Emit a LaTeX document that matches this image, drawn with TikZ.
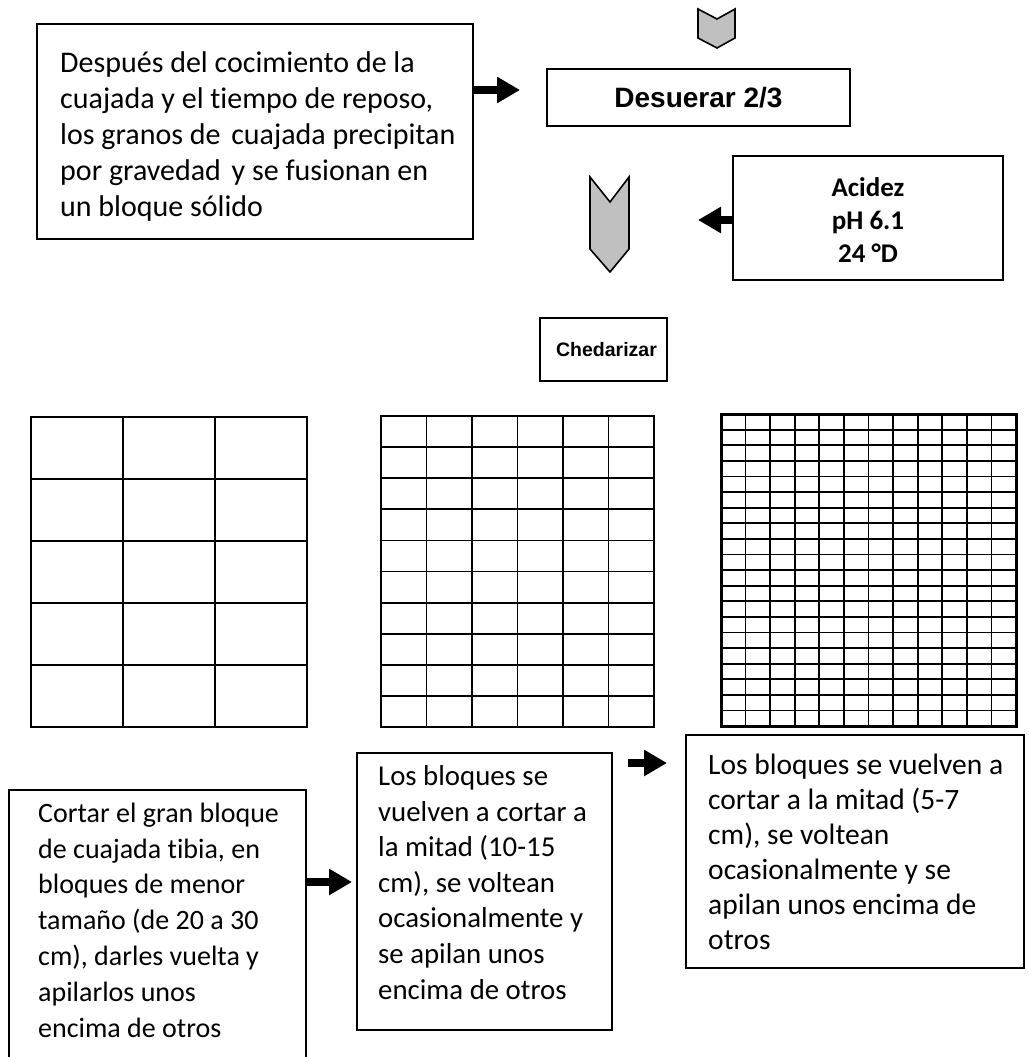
\documentclass[tikz,border=0pt]{standalone}
\usepackage{fontspec}
\setmainfont{Carlito}[Ligatures=NoCommon]
\newfontfamily\arialf{Liberation Sans}
\usetikzlibrary{arrows.meta}
\definecolor{chevgray}{HTML}{C0C0C0}
\begin{document}
\begin{tikzpicture}[x=1pt,y=-1pt,
  box/.style={draw, line width=1.6pt, rectangle, inner sep=0pt, outer sep=0pt, anchor=north west},
  txt/.style={anchor=base west, align=left, inner sep=0pt, font=\fontsize{28}{35.8}\selectfont},
  btxt/.style={anchor=base, align=center, inner sep=0pt, font=\fontsize{27}{33}\selectfont\bfseries},
  ttl/.style={inner sep=0pt, font=\fontsize{28}{34}\selectfont\arialf\bfseries},
  fat/.style={line width=7.5pt, -{Triangle[length=23pt,width=25pt]}},
  chev/.style={draw, line width=1.6pt, fill=chevgray, line join=miter},
  gline/.style={line width=1.8pt, line cap=rect}]
\useasboundingbox (0,0) rectangle (1028,1057);
\clip (0,0) rectangle (1028,1057);
\fill[white] (0,0) rectangle (1028,1057);

% chevrons
\draw[chev] (698,9) -- (717,19) -- (735,9) -- (735,38) -- (717,48) -- (698,38) -- cycle;
\draw[chev] (590,177) -- (610,202) -- (629,177) -- (629,249) -- (610,272) -- (590,249) -- cycle;

% top-left box (base anchor = last line baseline)
\node[box, minimum width=436pt, minimum height=215pt] (tl) at (37,24) {};
\node[txt, font=\fontsize{30}{36}\selectfont] (tltxt) at (60,216) {Después del cocimiento de la\\cuajada y el tiempo de reposo,\\los granos de\hspace{4pt} cuajada precipitan\\por gravedad\hspace{4pt} y se fusionan en\\un bloque sólido};

% Desuerar
\node[box, minimum width=303pt, minimum height=57pt] (des) at (547,69) {};
\node[ttl] (destxt) at (des.center) {Desuerar 2/3};

% Acidez
\node[box, minimum width=270pt, minimum height=124pt] (acid) at (733,156) {};
\node[btxt] (acidtxt) at (868,262) {Acidez\\pH 6.1\\24 °D};

% Chedarizar
\node[box, minimum width=127pt, minimum height=63pt] (ched) at (540,318) {};
\node[ttl, font=\fontsize{19.5}{24}\selectfont\arialf\bfseries] (chedtxt) at ([xshift=3pt]ched.center) {Chedarizar};

% arrows top
\coordinate (a1) at (520,90);
\draw[fat] (tl.east |- a1) -- (a1);
\coordinate (a2) at (698,220);
\draw[fat] (acid.west |- a2) -- (a2);

% grids
\foreach \i in {0,...,3} \draw[gline] ({31+92*\i},417) -- ({31+92*\i},727);
\foreach \j in {0,...,5} \draw[gline] (31,{417+62*\j}) -- (307,{417+62*\j});

\foreach \i in {0,...,6} \draw[gline] ({381+45.5*\i},416) -- ({381+45.5*\i},727);
\foreach \j in {0,...,10} \draw[gline] (381,{416+31.1*\j}) -- (654,{416+31.1*\j});

\foreach \i in {1,...,11} \draw[gline] ({721+24.583*\i},414) -- ({721+24.583*\i},726);
\foreach \j in {1,...,19} \draw[gline] (721,{414+15.6*\j}) -- (1016,{414+15.6*\j});
\draw[line width=3pt] (721,414) rectangle (1016,726);

% bottom boxes
\node[box, minimum width=297pt, minimum height=300pt] (b1) at (9,790) {};
\node[txt] (b1txt) at (38,1037) {Cortar el gran bloque\\de cuajada tibia, en\\bloques de menor\\tamaño (de 20 a 30\\cm), darles vuelta y\\apilarlos unos\\encima de otros};

\node[box, minimum width=255pt, minimum height=277pt] (b2) at (357,753) {};
\node[txt, font=\fontsize{28.8}{35.6}\selectfont] (b2txt) at (378,999) {Los bloques se\\vuelven a cortar a\\la mitad (10-15\\cm), se voltean\\ocasionalmente y\\se apilan unos\\encima de otros};

\node[box, minimum width=338pt, minimum height=233pt] (b3) at (686,735) {};
\node[txt, font=\fontsize{29.5}{35}\selectfont] (b3txt) at (708,949) {Los bloques se vuelven a\\cortar a la mitad (5-7\\cm), se voltean\\ocasionalmente y se\\apilan unos encima de\\otros};

\coordinate (a3) at (352,882);
\draw[fat] (b1.east |- a3) -- (a3);
\coordinate (a4s) at (628,763);
\coordinate (a4) at (667,763);
\draw[fat] (a4s) -- (a4);
\end{tikzpicture}
\end{document}
